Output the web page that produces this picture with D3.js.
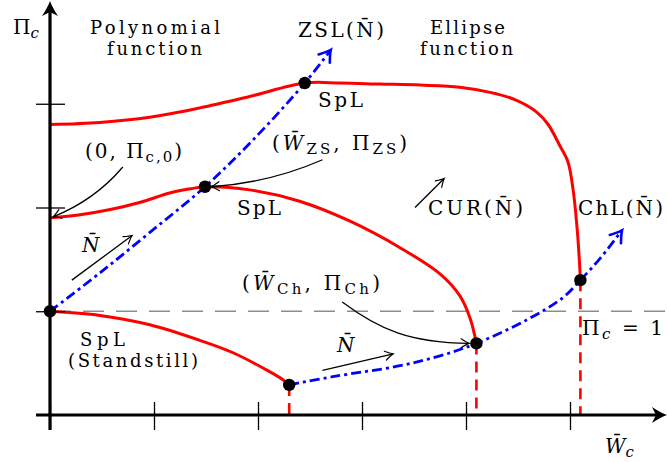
<!DOCTYPE html>
<html>
<head>
<meta charset="utf-8">
<script src="https://cdn.jsdelivr.net/npm/d3@7"></script>
<style>
  body { margin: 0; background: #fff; }
  svg { display: block; }
  text { font-family: "DejaVu Serif", serif; fill: #000; }
</style>
</head>
<body>
<svg id="chart" width="667" height="462"></svg>
<script>
// ---- tick positions (normalised flow W̄c, pressure ratio Πc) ----
const xTicks = [0, 1, 2, 3, 4, 5];
const yTicks = [1, 2, 3];
const piOne = 1;

// ---- speed lines: polynomial part then ellipse part, [W̄c, Πc] ----
const speedHighPoly = [[0, 2.80], [0.48, 2.82], [0.96, 2.87], [1.44, 2.96], [1.92, 3.07], [2.45, 3.20]];
const speedHighEllipse = [[2.45, 3.20], [2.79, 3.20], [3.17, 3.19], [3.56, 3.18], [3.94, 3.16], [4.23, 3.11], [4.47, 3.04], [4.68, 2.92], [4.79, 2.80], [4.90, 2.60], [4.98, 2.44], [5.03, 2.17], [5.07, 1.78], [5.09, 1.49], [5.10, 1.30]];
const speedMidPoly = [[0, 1.90], [0.29, 1.93], [0.58, 1.98], [0.87, 2.05], [1.15, 2.14], [1.35, 2.18], [1.49, 2.20]];
const speedMidEllipse = [[1.49, 2.20], [1.92, 2.17], [2.40, 2.06], [2.88, 1.87], [3.37, 1.61], [3.75, 1.36], [3.94, 1.15], [4.04, 0.93], [4.10, 0.69]];
const standstill = [[0, 1.00], [0.48, 0.96], [0.96, 0.87], [1.44, 0.72], [1.76, 0.60], [2.09, 0.43], [2.24, 0.34], [2.30, 0.29]];

// ---- zero-slope line and choke line ----
const zslLine = [[0, 1.00], [0.48, 1.37], [0.96, 1.76], [1.49, 2.20], [1.97, 2.67], [2.45, 3.20], [2.70, 3.52]];
const chlLine = [[2.30, 0.29], [2.72, 0.37], [3.34, 0.47], [3.75, 0.57], [4.10, 0.69], [4.59, 0.92], [4.93, 1.13], [5.10, 1.30], [5.29, 1.51], [5.50, 1.78]];

// ---- marked points and choke points ----
const keyPoints = [[0, 1.00], [1.49, 2.20], [2.45, 3.20], [2.30, 0.29], [4.10, 0.69], [5.10, 1.30]];
const chokePoints = [[2.30, 0.29], [4.10, 0.69], [5.10, 1.30]];

// ---- direction arrows and callouts, [W̄c, Πc] ----
const speedArrows = [[[0.21, 1.30], [0.79, 1.73]], [[2.62, 0.43], [3.30, 0.59]], [[3.51, 2.00], [3.79, 2.28]]];
const calloutPi0 = [[0.70, 2.39], [0.43, 2.07], [0.03, 1.91]];
const calloutZS = [[2.62, 2.46], [2.12, 2.24], [1.55, 2.20]];
const calloutCh = [[2.81, 1.09], [3.17, 0.82], [3.46, 0.70], [4.03, 0.69]];

const svg = d3.select("#chart");
const x = d3.scaleLinear().domain([0, 1]).range([50, 154]);
const y = d3.scaleLinear().domain([0, 1]).range([415, 311.25]);

const RED = "#ff0000", BLUE = "#0000ff";

// arrowhead markers
const defs = svg.append("defs");
function marker(id, color, w, len, half) {
  defs.append("marker")
    .attr("id", id).attr("markerUnits", "userSpaceOnUse")
    .attr("viewBox", "-20 -12 24 24").attr("refX", 0).attr("refY", 0)
    .attr("markerWidth", 24).attr("markerHeight", 24).attr("orient", "auto")
    .append("path")
    .attr("d", `M${-len},${-half} Q${-len * 0.3},${-half * 0.2} 0,0 Q${-len * 0.3},${half * 0.2} ${-len},${half}`)
    .attr("fill", "none").attr("stroke", color).attr("stroke-width", w)
    .attr("stroke-linecap", "round").attr("stroke-dasharray", "none");
}
marker("headBlack", "#000", 1.2, 8, 4.5);
marker("headBlue", BLUE, 2.6, 11, 7);

const line = d3.line().x(d => x(d[0])).y(d => y(d[1])).curve(d3.curveCatmullRom.alpha(0.5));

// Πc = 1 reference
svg.append("line")
  .attr("x1", x(0)).attr("x2", 667).attr("y1", y(piOne)).attr("y2", y(piOne))
  .attr("stroke", "#8c8c8c").attr("stroke-width", 1.6).attr("stroke-dasharray", "21,12");

// speed lines
[speedHighPoly.concat(speedHighEllipse.slice(1)),
 speedMidPoly.concat(speedMidEllipse.slice(1)),
 standstill].forEach(pts => {
  svg.append("path").attr("d", line(pts)).attr("fill", "none")
    .attr("stroke", RED).attr("stroke-width", 3);
});

// vertical choke drops
svg.selectAll(".choke").data(chokePoints).join("line")
  .attr("x1", d => x(d[0])).attr("x2", d => x(d[0]))
  .attr("y1", d => y(d[1])).attr("y2", y(0))
  .attr("stroke", RED).attr("stroke-width", 2.6).attr("stroke-dasharray", "11,7");

// zero-slope and choke lines
[zslLine, chlLine].forEach(pts => {
  svg.append("path").attr("d", line(pts)).attr("fill", "none")
    .attr("stroke", BLUE).attr("stroke-width", 2.8)
    .attr("stroke-dasharray", "10,4,3,4")
    .attr("marker-end", "url(#headBlue)");
});

// speed direction arrows
speedArrows.forEach(a => {
  svg.append("line")
    .attr("x1", x(a[0][0])).attr("y1", y(a[0][1]))
    .attr("x2", x(a[1][0])).attr("y2", y(a[1][1]))
    .attr("stroke", "#000").attr("stroke-width", 1.3)
    .attr("marker-end", "url(#headBlack)");
});

// callouts
const P = d => `${x(d[0])},${y(d[1])}`;
[`M${P(calloutPi0[0])} Q${P(calloutPi0[1])} ${P(calloutPi0[2])}`,
 `M${P(calloutZS[0])} Q${P(calloutZS[1])} ${P(calloutZS[2])}`,
 `M${P(calloutCh[0])} C${P(calloutCh[1])} ${P(calloutCh[2])} ${P(calloutCh[3])}`].forEach(d => {
  svg.append("path").attr("d", d)
    .attr("fill", "none").attr("stroke", "#000").attr("stroke-width", 1.3)
    .attr("marker-end", "url(#headBlack)");
});

// marked points
svg.selectAll(".pt").data(keyPoints).join("circle")
  .attr("cx", d => x(d[0])).attr("cy", d => y(d[1])).attr("r", 6.2).attr("fill", "#000");

// axes
const axG = svg.append("g");
axG.append("line").attr("x1", 36).attr("x2", 662).attr("y1", y(0)).attr("y2", y(0))
  .attr("stroke", "#000").attr("stroke-width", 3.2);
axG.append("line").attr("x1", x(0)).attr("x2", x(0)).attr("y1", 430).attr("y2", 6)
  .attr("stroke", "#000").attr("stroke-width", 3.2);
const head = "M0,0 C-4,1.5 -9,4 -15,8 L-11,0 L-15,-8 C-9,-4 -4,-1.5 0,0 Z";
axG.append("path").attr("d", head).attr("fill", "#000")
  .attr("transform", `translate(${x(0)},1) rotate(-90)`);
axG.append("path").attr("d", head).attr("fill", "#000")
  .attr("transform", `translate(667,${y(0)})`);

const xAxis = svg.append("g").attr("transform", `translate(0,${y(0)})`)
  .call(d3.axisBottom(x).tickValues(xTicks).tickSize(15).tickFormat(() => ""));
xAxis.select(".domain").remove();
xAxis.selectAll(".tick line").attr("y1", -13).attr("y2", 15).attr("stroke", "#000").attr("stroke-width", 1.3);

const yAxis = svg.append("g").attr("transform", `translate(${x(0)},0)`)
  .call(d3.axisLeft(y).tickValues(yTicks).tickSize(14).tickFormat(() => ""));
yAxis.select(".domain").remove();
yAxis.selectAll(".tick line").attr("x1", -14).attr("x2", 15).attr("stroke", "#000").attr("stroke-width", 1.3);

// text with roman / italic / subscript pieces
function label(x0, y0, segs, opts = {}) {
  const t = svg.append("text").attr("x", x0).attr("y", y0)
    .attr("font-size", opts.size || 20);
  let shift = 0;
  segs.forEach(s => {
    const sp = t.append("tspan").text(s.t);
    const want = s.sub ? 4 : 0;
    if (want !== shift) { sp.attr("dy", want - shift); shift = want; }
    if (s.sub) sp.attr("font-size", opts.sub || 15);
    if (s.it) sp.attr("font-style", "italic");
  });
  if (opts.len) t.attr("textLength", opts.len).attr("lengthAdjust", "spacing");
  return t;
}

label(13, 34, [{ t: "Π" }, { t: "c", it: true, sub: true }]);
label(90, 34, [{ t: "Polynomial" }], { len: 130, size: 18 });
label(107, 55, [{ t: "function" }], { len: 95, size: 18 });
label(430, 34, [{ t: "Ellipse" }], { len: 75, size: 18 });
label(420, 55, [{ t: "function" }], { len: 93, size: 18 });
label(298, 37, [{ t: "ZSL(N\u0304)" }], { len: 86 });
label(318, 107, [{ t: "SpL" }], { len: 45 });
label(237, 215, [{ t: "SpL" }], { len: 44 });
label(85, 158, [{ t: "(0, Π" }, { t: "c,0", sub: true }, { t: ")" }], { len: 97 });
label(272, 150, [{ t: "(" }, { t: "W\u0304", it: true }, { t: "ZS", sub: true }, { t: ", Π" }, { t: "ZS", sub: true }, { t: ")" }], { len: 135 });
label(82, 252, [{ t: "N\u0304", it: true }]);
label(428, 215, [{ t: "CUR(N\u0304)" }], { len: 95 });
label(578, 215, [{ t: "ChL(N\u0304)" }], { len: 85 });
label(242, 290, [{ t: "(" }, { t: "W\u0304", it: true }, { t: "Ch", sub: true }, { t: ", Π" }, { t: "Ch", sub: true }, { t: ")" }], { len: 138 });
label(337, 352, [{ t: "N\u0304", it: true }]);
label(582, 335, [{ t: "Π" }, { t: "c", it: true, sub: true }, { t: " = 1" }], { len: 81 });
label(80, 346, [{ t: "SpL" }], { len: 45, size: 18 });
label(68, 367, [{ t: "(Standstill)" }], { len: 130, size: 18 });
label(605, 453, [{ t: "W\u0304", it: true }, { t: "c", it: true, sub: true }]);
</script>
</body>
</html>
